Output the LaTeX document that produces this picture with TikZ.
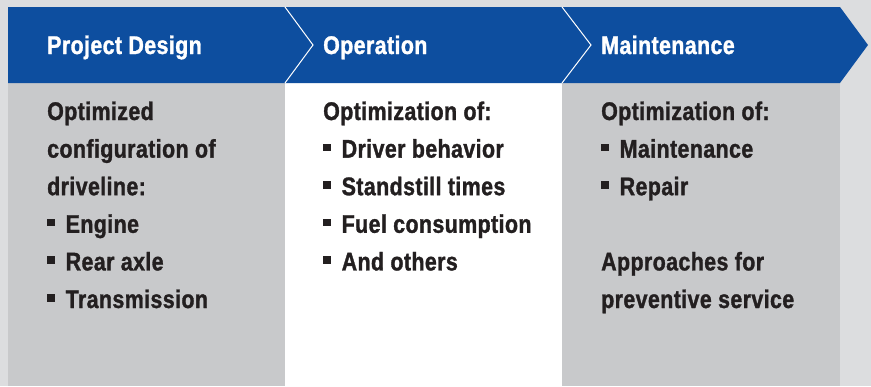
\documentclass[tikz,border=0pt]{standalone}
\usepackage{fontspec}
\setmainfont[FakeStretch=0.84,LetterSpace=1.5,BoldFeatures={FakeBold=1.2}]{Liberation Sans}
\definecolor{bandblue}{HTML}{0D4E9F}
\definecolor{colgray}{HTML}{C8C9CB}
\definecolor{bggray}{HTML}{DCDDDF}
\definecolor{txtdark}{HTML}{231F20}
\newcommand{\bul}{\makebox[18.5pt][l]{\rule[6.5pt]{7.5pt}{7.5pt}}}
\begin{document}
\begin{tikzpicture}[x=1pt,y=-1pt,
  head/.style={anchor=base west, text=white, font=\bfseries\fontsize{25.5}{25.5}\selectfont, inner sep=0pt},
  body/.style={anchor=base west, text=txtdark, font=\bfseries\fontsize{25.5}{25.5}\selectfont, inner sep=0pt},
  sep/.style={draw=white, line width=1pt}
]
\fill[bggray] (0,0) rectangle (871,386);
\useasboundingbox (0,0) rectangle (871,386);
% columns
\fill[colgray] (8,83) rectangle (285,386);
\fill[white] (285,83) rectangle (562,386);
\fill[colgray] (562,83) rectangle (840,386);
% header band
\fill[bandblue] (8,7) -- (840,7) -- (868,45) -- (840,83) -- (8,83) -- cycle;
\draw[sep] (285,7) -- (313,45) -- (285,83);
\draw[sep] (562,7) -- (591,45) -- (562,83);
% headers
\node[head] (h1) at (47,54) {Project Design};
\node[head] (h2) at (323,54) {Operation};
\node[head] (h3) at (601,54) {Maintenance};
% left column
\node[body] (l1) at (47,120) {Optimized};
\node[body] (l2) at (47,157.6) {configuration of};
\node[body] (l3) at (47,195.2) {driveline:};
\node[body] (l4) at (47,232.8) {\bul Engine};
\node[body] (l5) at (47,270.4) {\bul Rear axle};
\node[body] (l6) at (47,308) {\bul Transmission};
% middle column
\node[body] (m1) at (323,120) {Optimization of:};
\node[body] (m2) at (323,157.6) {\bul Driver behavior};
\node[body] (m3) at (323,195.2) {\bul Standstill times};
\node[body] (m4) at (323,232.8) {\bul Fuel consumption};
\node[body] (m5) at (323,270.4) {\bul And others};
% right column
\node[body] (r1) at (601,120) {Optimization of:};
\node[body] (r2) at (601,157.6) {\bul Maintenance};
\node[body] (r3) at (601,195.2) {\bul Repair};
\node[body] (r4) at (601,270.4) {Approaches for};
\node[body] (r5) at (601,308) {preventive service};
\end{tikzpicture}
\end{document}
